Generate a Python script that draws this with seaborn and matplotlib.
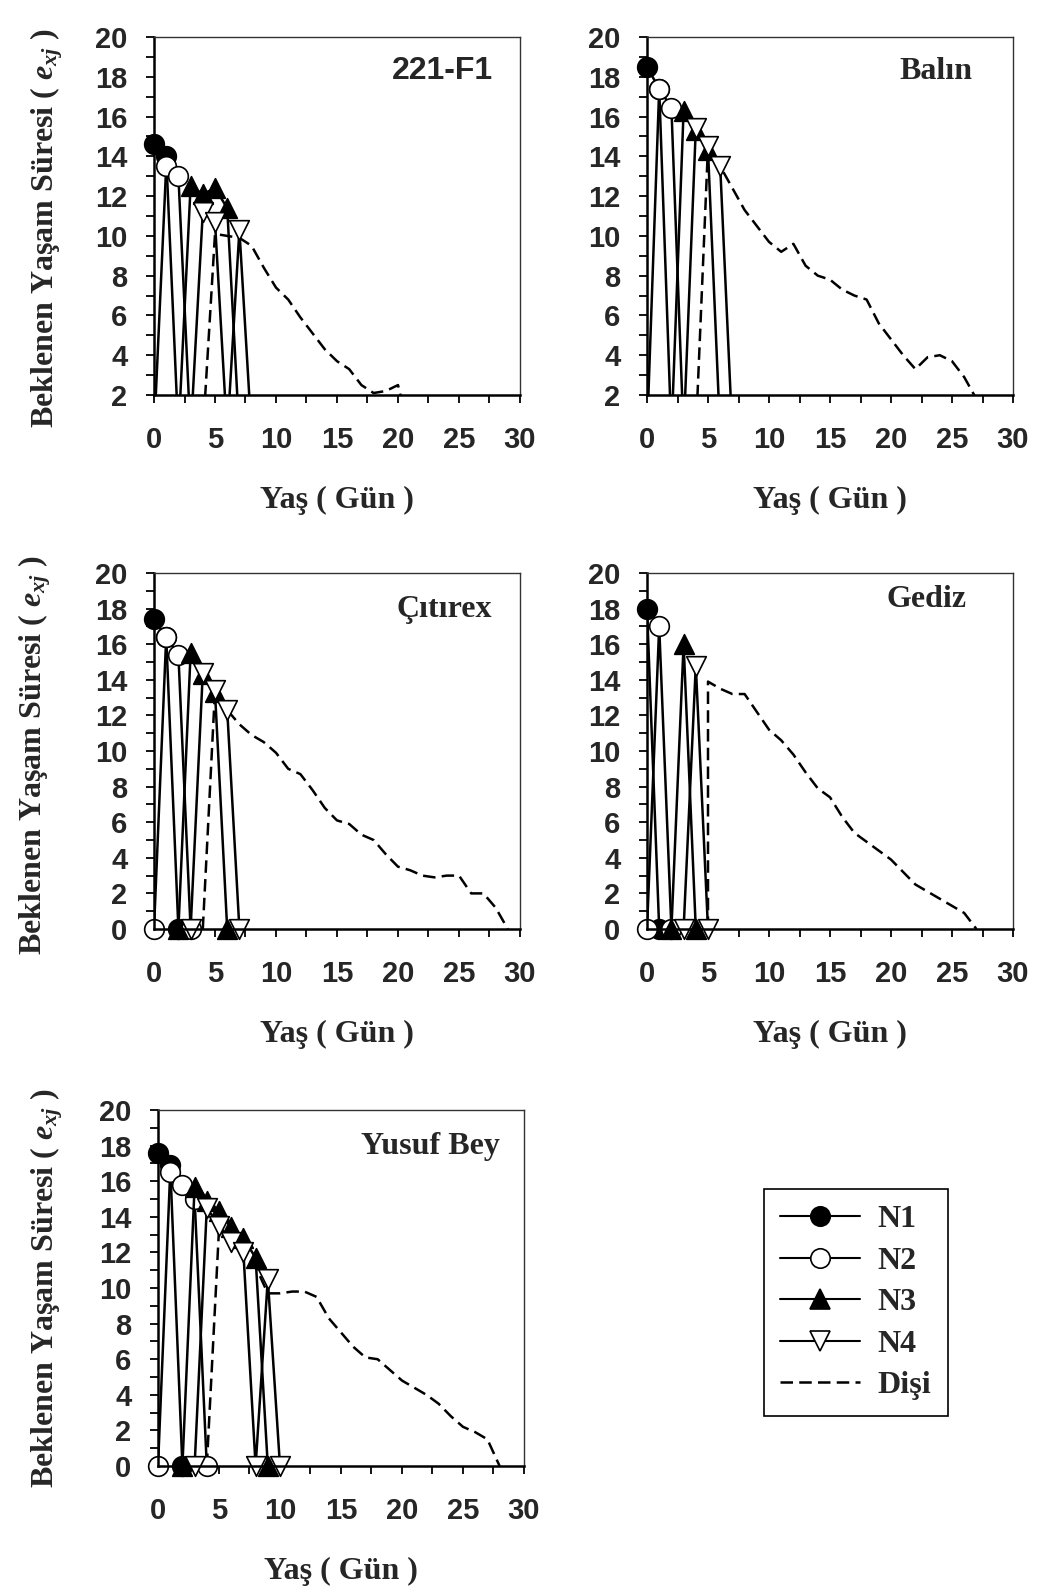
import matplotlib
matplotlib.use("Agg")
import matplotlib.pyplot as plt
from matplotlib.lines import Line2D
from matplotlib.ticker import MultipleLocator
import numpy as np
import seaborn as sns

sns.set_style("ticks")
plt.rcParams["font.family"] = ["Liberation Sans", "DejaVu Sans"]
plt.rcParams["mathtext.fontset"] = "custom"
plt.rcParams["mathtext.it"] = "Liberation Serif:italic:bold"
plt.rcParams["mathtext.rm"] = "Liberation Serif:bold"

# ---- data: expected life span e_xj by age (days) and stage ----
panel_names = ["221-F1", "Balın", "Çıtırex", "Gediz", "Yusuf Bey"]

# 221-F1
f1_n1_age = [0, 1, 2]
f1_n1 = [14.6, 14.0, 0]
f1_n2_age = [0, 1, 2, 3]
f1_n2 = [0, 13.5, 13.0, 0]
f1_n3_age = [2, 3, 4, 5, 6, 7]
f1_n3 = [0, 12.5, 12.1, 12.4, 11.4, 0]
f1_n4_age = [3, 4, 5, 6, 7, 8]
f1_n4 = [0, 11.2, 10.7, 0, 10.3, 0]
f1_f_age = list(range(4, 22))
f1_f = [0, 10.1, 10.0, 9.9, 9.5, 8.4, 7.4, 6.8, 5.9, 5.1, 4.3, 3.7, 3.3, 2.5, 2.1, 2.2, 2.5, 0]

# Balın
ba_n1_age = [0, 1, 2]
ba_n1 = [18.5, 17.4, 0]
ba_n2_age = [0, 1, 2, 3]
ba_n2 = [0, 17.4, 16.45, 0]
ba_n3_age = [2, 3, 4, 5, 6]
ba_n3 = [0, 16.3, 15.3, 14.3, 0]
ba_n4_age = [3, 4, 5, 6, 7]
ba_n4 = [0, 15.4, 14.5, 13.5, 0]
ba_f_age = list(range(4, 29))
ba_f = [0, 14.5, 13.5, 12.4, 11.3, 10.5, 9.7, 9.2, 9.6, 8.5, 8.0, 7.8, 7.3,
        7.0, 6.8, 5.6, 4.8, 4.0, 3.3, 3.9, 4.0, 3.7, 2.9, 1.8, 0]

# Çıtırex
ci_n1_age = [0, 1, 2]
ci_n1 = [17.4, 16.4, 0]
ci_n2_age = [0, 1, 2, 3]
ci_n2 = [0, 16.4, 15.4, 0]
ci_n3_age = [2, 3, 4, 5, 6]
ci_n3 = [0, 15.5, 14.3, 13.3, 0]
ci_n4_age = [3, 4, 5, 6, 7]
ci_n4 = [0, 14.4, 13.4, 12.3, 0]
ci_f_age = list(range(4, 30))
ci_f = [0, 13.4, 12.3, 11.5, 10.9, 10.5, 9.9, 9.0, 8.7, 7.8, 6.8, 6.1, 5.9,
        5.3, 5.0, 4.2, 3.5, 3.3, 3.0, 2.9, 3.0, 3.0, 2.0, 2.0, 1.2, 0]

# Gediz
ge_n1_age = [0, 1]
ge_n1 = [18.0, 0]
ge_n2_age = [0, 1, 2]
ge_n2 = [0, 17.0, 0]
ge_n3_age = [2, 3, 4]
ge_n3 = [0, 16.0, 0]
ge_n4_age = [3, 4, 5]
ge_n4 = [0, 14.8, 0]
ge_f_age = [5] + list(range(5, 28))
ge_f = [0, 13.9, 13.5, 13.2, 13.2, 12.2, 11.2, 10.6, 9.8, 8.8, 7.9, 7.4, 6.3,
        5.4, 4.9, 4.4, 3.9, 3.2, 2.5, 2.1, 1.7, 1.3, 0.9, 0]

# Yusuf Bey
yb_n1_age = [0, 1, 2]
yb_n1 = [17.6, 16.9, 0]
yb_n2_age = [0, 1, 2, 3, 4]
yb_n2 = [0, 16.5, 15.8, 15.0, 0]
yb_n3_age = [2, 3, 4, 5, 6, 7, 8, 9]
yb_n3 = [0, 15.7, 14.9, 14.3, 13.4, 12.8, 11.7, 0]
yb_n4_age = [3, 4, 5, 6, 7, 8, 9, 10]
yb_n4 = [0, 14.5, 13.5, 12.6, 12.0, 0, 10.5, 0]
yb_f_age = list(range(4, 29))
yb_f = [0, 13.3, 12.6, 12.0, 11.2, 9.7, 9.7, 9.8, 9.8, 9.5, 8.3, 7.5, 6.7,
        6.1, 6.0, 5.4, 4.8, 4.4, 4.0, 3.5, 2.8, 2.2, 1.9, 1.5, 0]

panel_data = [
    [(f1_n1_age, f1_n1), (f1_n2_age, f1_n2), (f1_n3_age, f1_n3), (f1_n4_age, f1_n4), (f1_f_age, f1_f)],
    [(ba_n1_age, ba_n1), (ba_n2_age, ba_n2), (ba_n3_age, ba_n3), (ba_n4_age, ba_n4), (ba_f_age, ba_f)],
    [(ci_n1_age, ci_n1), (ci_n2_age, ci_n2), (ci_n3_age, ci_n3), (ci_n4_age, ci_n4), (ci_f_age, ci_f)],
    [(ge_n1_age, ge_n1), (ge_n2_age, ge_n2), (ge_n3_age, ge_n3), (ge_n4_age, ge_n4), (ge_f_age, ge_f)],
    [(yb_n1_age, yb_n1), (yb_n2_age, yb_n2), (yb_n3_age, yb_n3), (yb_n4_age, yb_n4), (yb_f_age, yb_f)],
]
series_labels = ["N1", "N2", "N3", "N4", "Dişi"]
y_bottoms = [2, 2, 0, 0, 0]

# ---- styling ----
markers = ["o", "o", "^", "v", None]
faces = ["black", "white", "black", "white", None]
dash = (0, (5, 2.5))
W, H = 1039, 1591
fig = plt.figure(figsize=(W / 100, H / 100), dpi=100)

# axes boxes in pixels: left, top, right, bottom
boxes = [(154, 37, 520, 395), (647, 37, 1013, 395),
         (154, 573, 520, 929), (647, 573, 1013, 929),
         (158, 1110, 524, 1466)]
title_pos = [(0.925, 0.905), (0.888, 0.905), (0.923, 0.898), (0.872, 0.925), (0.933, 0.897)]
title_fonts = ["Liberation Sans", "Liberation Serif", "Liberation Serif", "Liberation Serif", "Liberation Serif"]
ylabel_x = [-0.243, None, -0.275, None, -0.253]
ylabel_y = [0.467, None, 0.489, None, 0.5]

serif_bold = {"family": "Liberation Serif", "weight": "bold", "size": 23}

for i, (box, series) in enumerate(zip(boxes, panel_data)):
    l, t, r, b = box
    ax = fig.add_axes([l / W, 1 - b / H, (r - l) / W, (b - t) / H])
    ymin = y_bottoms[i]
    for k, (ages, vals) in enumerate(series):
        if k < 4:
            sns.lineplot(x=ages, y=vals, ax=ax, color="black", lw=1.8, sort=False,
                         estimator=None, zorder=2 + k * 0.1)
            xs = [a for a, v in zip(ages, vals) if v >= ymin]
            ys = [v for v in vals if v >= ymin]
            sns.scatterplot(x=xs, y=ys, ax=ax, marker=markers[k], s=200,
                            color=faces[k], edgecolor="black", linewidth=1.2,
                            clip_on=False, zorder=2.05 + k * 0.1, legend=False)
        else:
            sns.lineplot(x=ages, y=vals, ax=ax, color="black", lw=1.8, sort=False,
                         estimator=None, linestyle=dash, zorder=1.9)

    ax.set_xlim(0, 30)
    ax.set_ylim(ymin, 20)
    ax.set_xticks(np.arange(0, 31, 5))
    ax.xaxis.set_minor_locator(MultipleLocator(2.5))
    ax.set_yticks(np.arange(ymin, 21, 2))
    ax.yaxis.set_minor_locator(MultipleLocator(1))
    ax.tick_params(which="both", direction="out", length=6, width=1.3, color="black")
    ax.tick_params(axis="x", which="major", pad=16, labelsize=21)
    ax.tick_params(axis="y", which="major", pad=13, labelsize=21)
    for lab in ax.get_xticklabels() + ax.get_yticklabels():
        lab.set_fontweight("bold")
        lab.set_family("Liberation Sans")
    for side in ["left", "bottom"]:
        ax.spines[side].set_linewidth(1.8)
        ax.spines[side].set_color("black")
    for side in ["top", "right"]:
        ax.spines[side].set_linewidth(1.0)
        ax.spines[side].set_color("#333333")

    ax.set_xlabel("Yaş ( Gün )", fontdict=serif_bold)
    ax.xaxis.set_label_coords(0.5, -0.255)
    if ylabel_x[i] is not None:
        ax.set_ylabel("Beklenen Yaşam Süresi ( $e_{xj}$ )", fontdict=serif_bold)
        ax.yaxis.set_label_coords(ylabel_x[i], ylabel_y[i])
    else:
        ax.set_ylabel("")

    ax.text(title_pos[i][0], title_pos[i][1], panel_names[i], transform=ax.transAxes,
            ha="right", va="center", fontsize=23, fontweight="bold",
            family=title_fonts[i])

handles = []
for k in range(4):
    handles.append(Line2D([], [], color="black", lw=1.5, marker=markers[k], markersize=14,
                          markerfacecolor=faces[k], markeredgecolor="black", markeredgewidth=1.2))
handles.append(Line2D([], [], color="black", lw=1.8, linestyle=dash))

leg = fig.legend(handles, series_labels, loc="center",
                 bbox_to_anchor=((763 + 949) / 2 / W, 1 - (1187 + 1418) / 2 / H),
                 prop={"family": "Liberation Serif", "weight": "bold", "size": 23},
                 frameon=True, fancybox=False, edgecolor="black", framealpha=1,
                 handlelength=2.5, handletextpad=0.55, labelspacing=0.38, borderpad=0.5)
leg.get_frame().set_linewidth(1.2)

fig.savefig("out.png", dpi=100)
